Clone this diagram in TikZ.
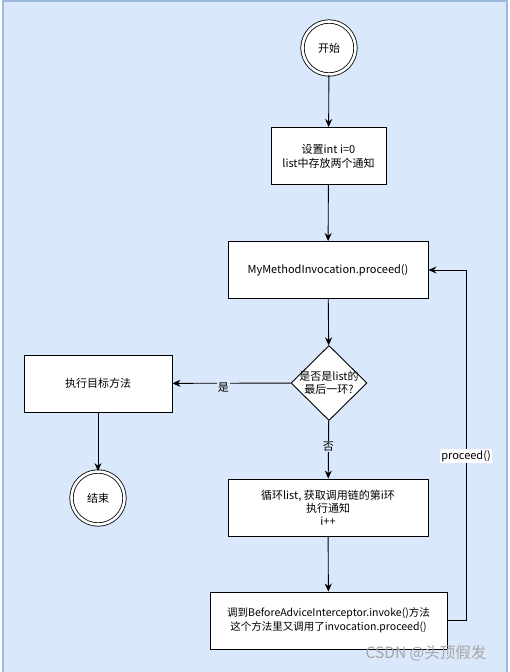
\documentclass[tikz,border=0pt]{standalone}
\usepackage{fontspec}
\setmainfont{Noto Sans CJK SC}
\usetikzlibrary{shapes.geometric,arrows.meta}
\definecolor{bgblue}{HTML}{DAE8FC}
\definecolor{edgeblue}{HTML}{9DB9DE}
\begin{document}
\begin{tikzpicture}[x=1pt,y=-1pt,
  box/.style={draw=black,fill=white,line width=0.9pt,inner sep=0pt,minimum height=57pt,align=center,font=\fontsize{11}{14}\selectfont},
  term/.style={circle,draw=black,fill=white,line width=0.8pt,double=white,double distance=2.6pt,minimum size=53pt,inner sep=0pt,font=\fontsize{11}{14}\selectfont},
  conn/.style={draw=black,line width=0.9pt,-{Stealth[length=8pt,width=7pt]}},
  lbl/.style={fill=bgblue,inner sep=1pt,font=\fontsize{11}{14}\selectfont},
  wlbl/.style={fill=white,inner sep=1pt,font=\fontsize{11}{14}\selectfont}]
\useasboundingbox (0,0) rectangle (510,672);
\fill[white] (0,0) rectangle (510,672);
\fill[bgblue] (3,1) rectangle (507,672);
\draw[edgeblue,line width=2pt] (3,672) -- (3,1) -- (507,1) -- (507,672);
% nodes
\node[term] (start) at (329,48) {开始};
\node[box,minimum width=115pt] (init) at (328.5,156) {设置int i=0\\list中存放两个通知};
\node[box,minimum width=200pt] (proc) at (328,270) {MyMethodInvocation.proceed()};
\node[diamond,draw=black,fill=white,line width=0.9pt,minimum width=76pt,minimum height=75pt,inner sep=0pt] (dec) at (329,383) {};
\node[align=center,inner sep=0pt,font=\fontsize{11}{13.5}\selectfont] (dectext) at (329,383) {是否是list的\\最后一环?};
\node[box,minimum width=148pt] (target) at (98,383.5) {执行目标方法};
\node[term] (end) at (98,498) {结束};
\node[box,minimum width=200pt,font=\fontsize{11}{13}\selectfont] (loop) at (328,507.5) {循环list, 获取调用链的第i环\\执行通知\\i++};
\node[box,minimum width=237pt,font=\fontsize{10.5}{14}\selectfont] (invoke) at (328.5,620.5) {调到BeforeAdviceInterceptor.invoke()方法\\这个方法里又调用了invocation.proceed()};
\coordinate (c1) at (466,620.5);
\coordinate (c2) at (466,270);
% connectors
\draw[conn] (start) -- (init);
\draw[conn] (init) -- (proc);
\draw[conn] (proc) -- (dec);
\draw[conn] (dec) -- node[lbl,pos=0.57,yshift=-4pt] {是} (target);
\draw[conn] (target) -- (end);
\draw[conn] (dec) -- node[lbl,pos=0.45] {否} (loop);
\draw[conn] (loop) -- (invoke);
\draw[conn] (invoke.east) -- (c1) -- node[wlbl,pos=0.47] {proceed()} (c2) -- (proc.east);
\node[text=gray!70,font=\fontsize{15.5}{18}\selectfont,inner sep=0pt] (wm) at (426,653) {CSDN @头顶假发};
\end{tikzpicture}
\end{document}
